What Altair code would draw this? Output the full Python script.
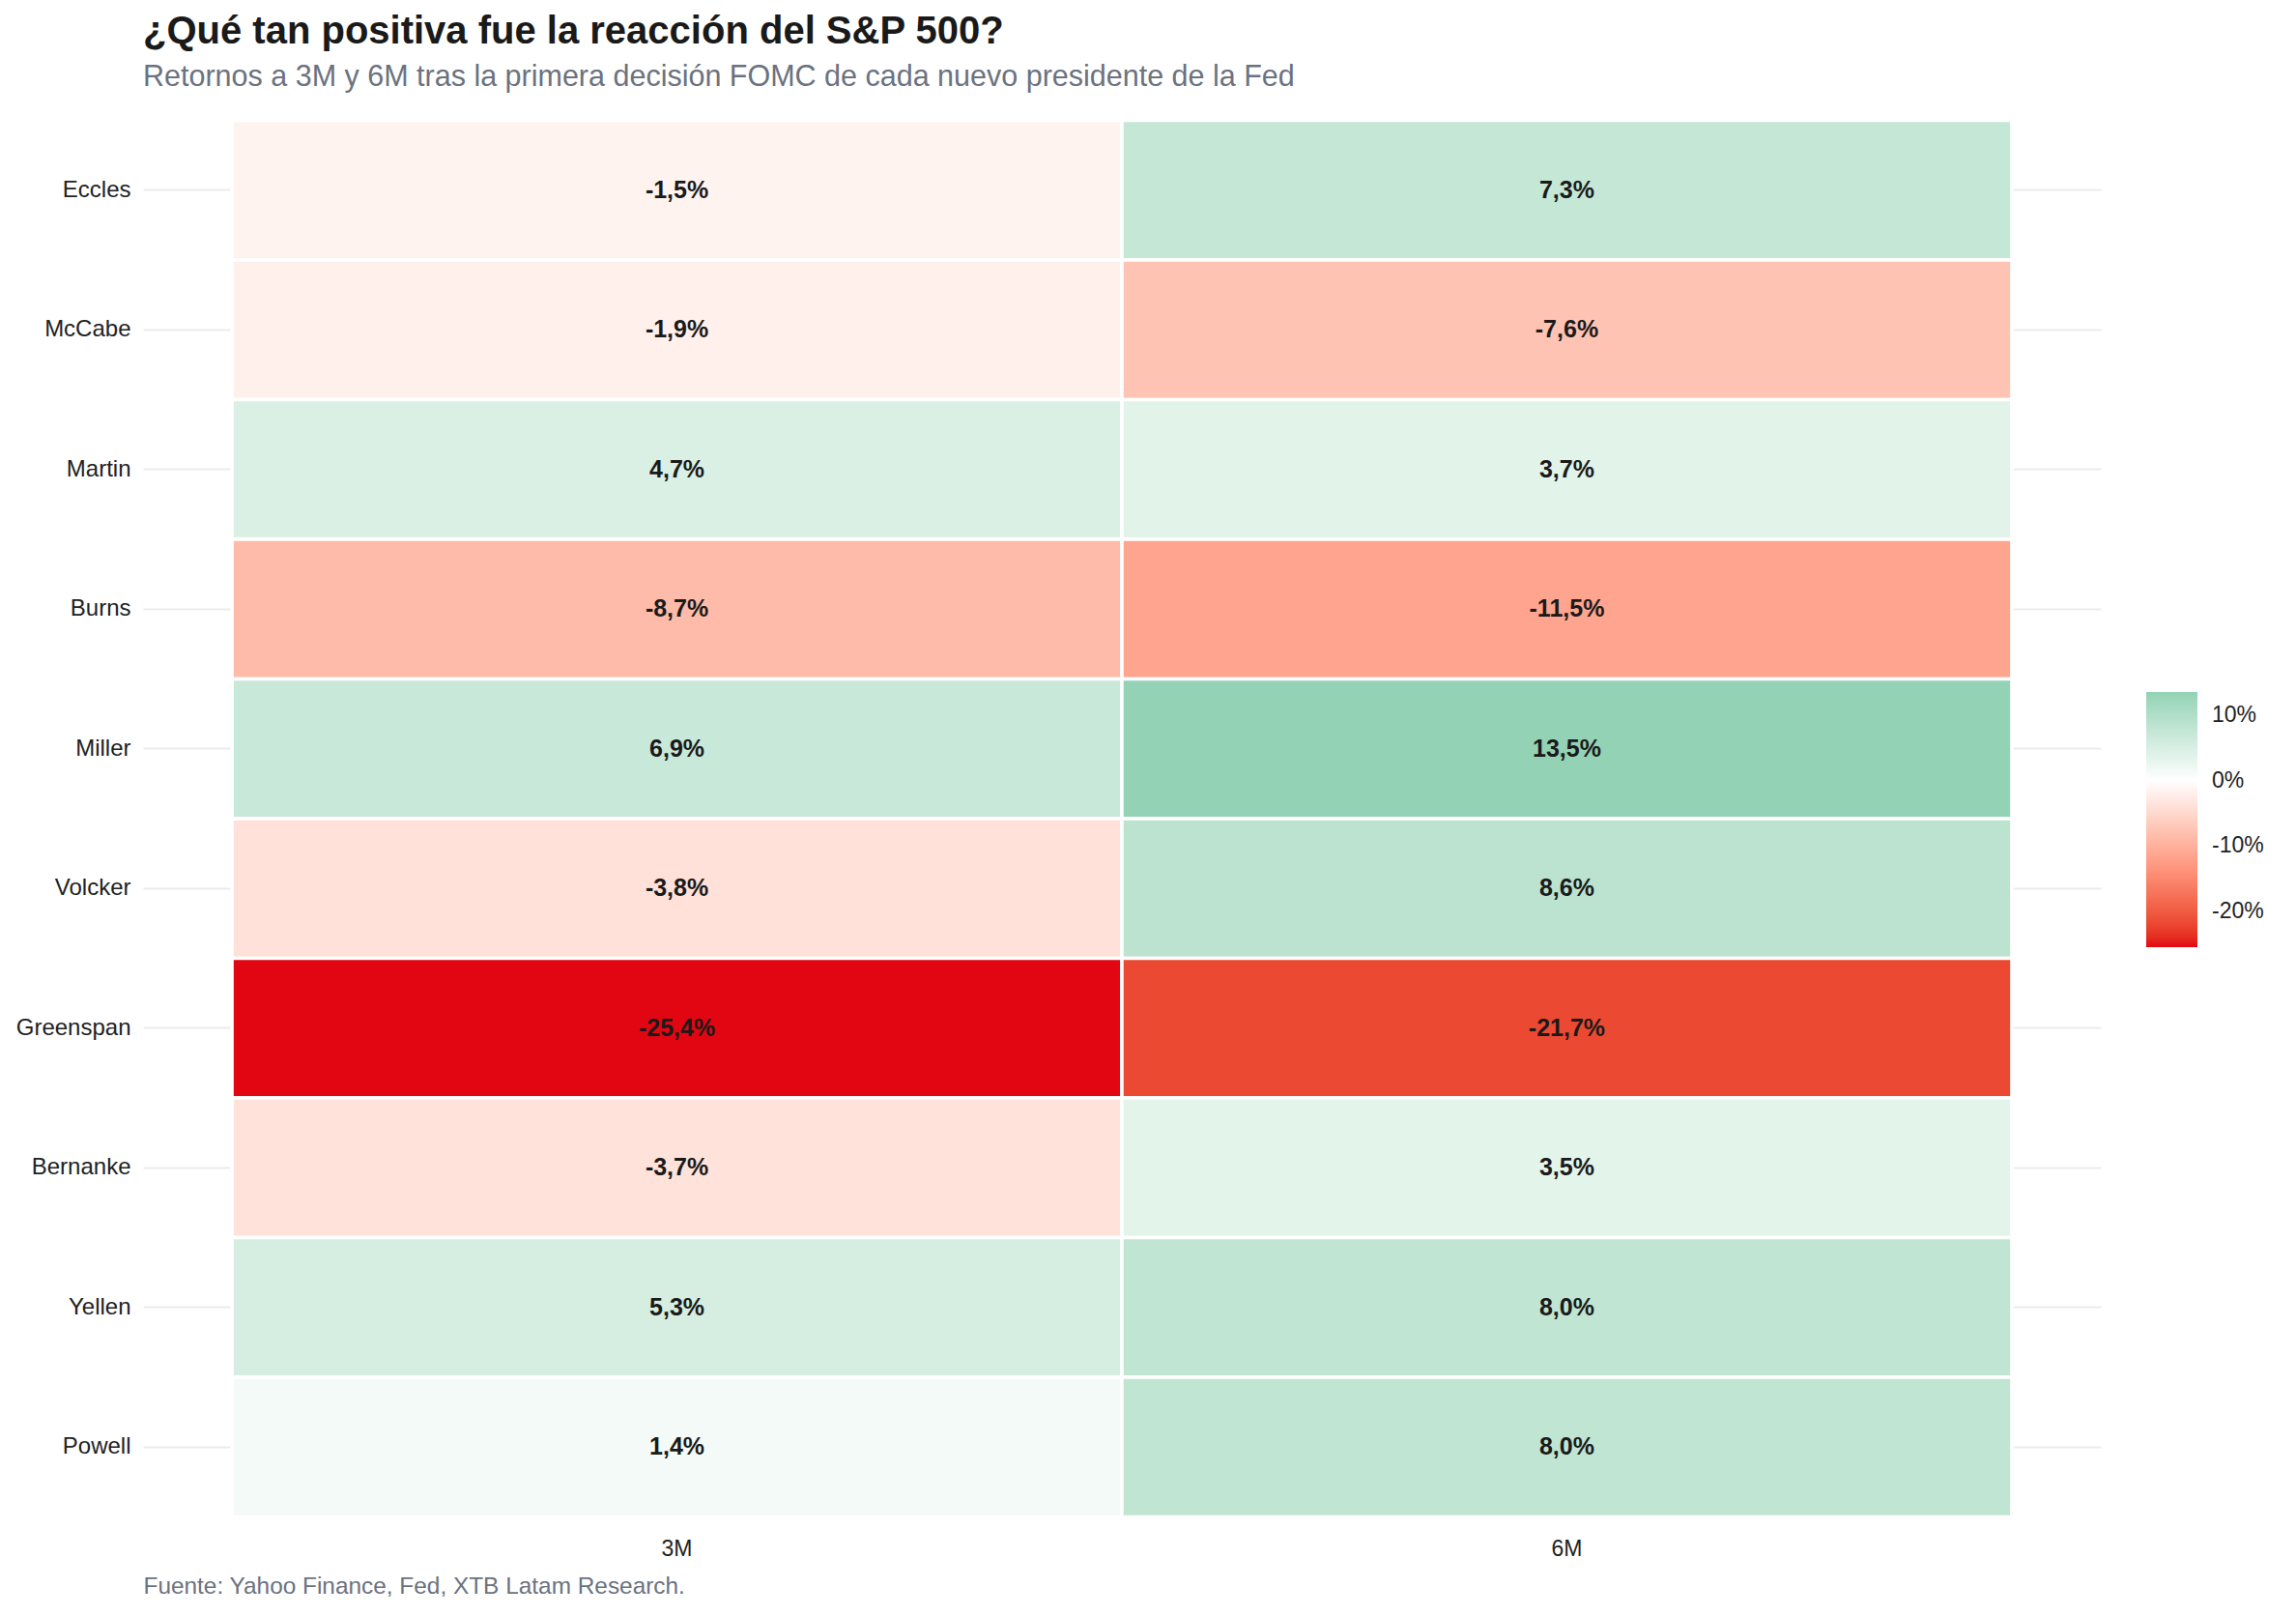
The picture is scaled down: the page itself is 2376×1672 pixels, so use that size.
import altair as alt
import pandas as pd

presidents = ["Eccles", "McCabe", "Martin", "Burns", "Miller", "Volcker",
              "Greenspan", "Bernanke", "Yellen", "Powell"]
horizons = ["3M", "6M"]
ret_3m = [-1.5, -1.9, 4.7, -8.7, 6.9, -3.8, -25.4, -3.7, 5.3, 1.4]
ret_6m = [7.3, -7.6, 3.7, -11.5, 13.5, 8.6, -21.7, 3.5, 8.0, 8.0]
legend_values = [-20, -10, 0, 10]

rows = []
for p, a, b in zip(presidents, ret_3m, ret_6m):
    for h, v in zip(horizons, [a, b]):
        rows.append({"presidente": p, "horizonte": h, "retorno": v,
                     "etiqueta": f"{v:.1f}".replace(".", ",") + "%"})
df = pd.DataFrame(rows)

FONT = "Liberation Sans"
vmin, vmax = min(ret_3m + ret_6m), max(ret_3m + ret_6m)

x_enc = alt.X("horizonte:N", sort=horizons,
              scale=alt.Scale(paddingInner=0, paddingOuter=0.1),
              axis=alt.Axis(title="Fuente: Yahoo Finance, Fed, XTB Latam Research.",
                            titleAnchor="start", titleAlign="left", titleX=0, titleY=57,
                            titleBaseline="middle", titleFontSize=24.4, titleFontWeight="normal",
                            titleColor="#6B7280", titleFont=FONT,
                            labelAngle=0, labelFontSize=23, labelColor="#222222",
                            labelFont=FONT, labelPadding=7, ticks=False, domain=False,
                            grid=False))
y_enc = alt.Y("presidente:N", sort=presidents,
              scale=alt.Scale(paddingInner=0, paddingOuter=0.1),
              axis=alt.Axis(title=None, labelFontSize=24, labelColor="#222222",
                            labelFont=FONT, labelPadding=13, ticks=False, domain=False,
                            grid=True, gridColor="#EBEBEB", gridWidth=2,
                            bandPosition=0.5, tickBand="center", zindex=0))

tiles = alt.Chart(df).mark_rect(stroke="white", strokeWidth=3.5).encode(
    x=x_enc, y=y_enc,
    color=alt.Color("retorno:Q",
                    scale=alt.Scale(domain=[vmin, 0, vmax],
                                    range=["#E10612", "#FFFFFF", "#93D2B5"],
                                    interpolate="lab"),
                    legend=alt.Legend(title=None, orient="none", legendX=2073, legendY=606,
                                      gradientLength=264, gradientThickness=53,
                                      gradientStrokeWidth=0, values=legend_values,
                                      labelExpr="datum.value + '%'", labelFontSize=23,
                                      labelFont=FONT, labelColor="#222222",
                                      labelOffset=15, padding=0)),
)

labels = alt.Chart(df).mark_text(fontWeight="bold", fontSize=25, font=FONT,
                                 color="#1A1A1A").encode(
    x=alt.X("horizonte:N", sort=horizons),
    y=alt.Y("presidente:N", sort=presidents),
    text="etiqueta:N",
)

chart = alt.layer(tiles, labels).properties(
    width=2026, height=1474,
    padding={"left": 16, "top": 12, "right": 10, "bottom": 6},
    background="white",
    title=alt.TitleParams(
        text="¿Qué tan positiva fue la reacción del S&P 500?",
        subtitle="Retornos a 3M y 6M tras la primera decisión FOMC de cada nuevo presidente de la Fed",
        anchor="start", frame="group", font=FONT, fontSize=40, fontWeight="bold",
        color="#1A1A1A", subtitleFont=FONT, subtitleFontSize=30.5,
        subtitleColor="#6B7280", subtitlePadding=12, offset=15),
).configure_view(stroke=None)

chart.save("out.html", embed_options={"renderer": "svg", "actions": False})
